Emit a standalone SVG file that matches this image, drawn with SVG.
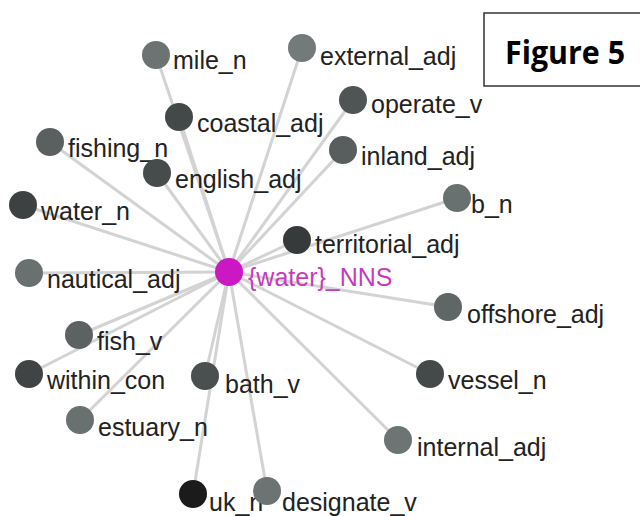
<svg xmlns="http://www.w3.org/2000/svg" width="640" height="516" viewBox="0 0 640 516">
<style>
.e{stroke:#d3d3d3;stroke-width:3}
.l{font-family:"Liberation Sans",Arial,sans-serif;font-size:25px;fill:#222}
.c{font-family:"Liberation Sans",Arial,sans-serif;font-size:25px;fill:#c43cbc}
.fig{font-family:"Open Sans","Liberation Sans",sans-serif;font-size:32px;font-weight:bold;fill:#000}
</style>
<rect width="640" height="516" fill="#fff"/>
<g id="connectors">
<line class="e" x1="229" y1="272" x2="156" y2="55"/>
<line class="e" x1="229" y1="272" x2="302" y2="48"/>
<line class="e" x1="229" y1="272" x2="179" y2="117"/>
<line class="e" x1="229" y1="272" x2="353" y2="100"/>
<line class="e" x1="229" y1="272" x2="50" y2="142"/>
<line class="e" x1="229" y1="272" x2="343" y2="150"/>
<line class="e" x1="229" y1="272" x2="157" y2="173"/>
<line class="e" x1="229" y1="272" x2="457" y2="198"/>
<line class="e" x1="229" y1="272" x2="23" y2="205"/>
<line class="e" x1="229" y1="272" x2="297" y2="240"/>
<line class="e" x1="229" y1="272" x2="29" y2="273"/>
<line class="e" x1="229" y1="272" x2="448" y2="307"/>
<line class="e" x1="229" y1="272" x2="79" y2="335"/>
<line class="e" x1="229" y1="272" x2="29" y2="374"/>
<line class="e" x1="229" y1="272" x2="205" y2="376"/>
<line class="e" x1="229" y1="272" x2="430" y2="374"/>
<line class="e" x1="229" y1="272" x2="80" y2="420"/>
<line class="e" x1="229" y1="272" x2="398" y2="440"/>
<line class="e" x1="229" y1="272" x2="193" y2="494"/>
<line class="e" x1="229" y1="272" x2="267" y2="491"/>
</g>
<g id="mile_n"><circle cx="156" cy="55" r="14" fill="#6c7373"/><text class="l" x="173" y="69">mile_n</text></g>
<g id="external_adj"><circle cx="302" cy="48" r="14" fill="#737a7a"/><text class="l" x="320" y="65">external_adj</text></g>
<g id="coastal_adj"><circle cx="179" cy="117" r="14" fill="#434848"/><text class="l" x="197" y="132">coastal_adj</text></g>
<g id="operate_v"><circle cx="353" cy="100" r="14" fill="#4f5555"/><text class="l" x="371" y="113">operate_v</text></g>
<g id="fishing_n"><circle cx="50" cy="142" r="14" fill="#5a6060"/><text class="l" x="68" y="157">fishing_n</text></g>
<g id="inland_adj"><circle cx="343" cy="150" r="14" fill="#585e5e"/><text class="l" x="361" y="165">inland_adj</text></g>
<g id="english_adj"><circle cx="157" cy="173" r="14" fill="#464b4b"/><text class="l" x="175" y="188">english_adj</text></g>
<g id="b_n"><circle cx="457" cy="198" r="14" fill="#697070"/><text class="l" x="471" y="213">b_n</text></g>
<g id="water_n"><circle cx="23" cy="205" r="14" fill="#3d4141"/><text class="l" x="41" y="220">water_n</text></g>
<g id="territorial_adj"><circle cx="297" cy="240" r="14" fill="#363a3a"/><text class="l" x="315" y="253">territorial_adj</text></g>
<g id="nautical_adj"><circle cx="29" cy="273" r="14" fill="#697070"/><text class="l" x="47" y="288">nautical_adj</text></g>
<g id="offshore_adj"><circle cx="448" cy="307" r="14" fill="#5f6666"/><text class="l" x="467" y="323">offshore_adj</text></g>
<g id="fish_v"><circle cx="79" cy="335" r="14" fill="#5c6262"/><text class="l" x="97" y="350">fish_v</text></g>
<g id="within_con"><circle cx="29" cy="374" r="14" fill="#404444"/><text class="l" x="47" y="389">within_con</text></g>
<g id="bath_v"><circle cx="205" cy="376" r="14" fill="#4a4f4f"/><text class="l" x="225" y="393">bath_v</text></g>
<g id="vessel_n"><circle cx="430" cy="374" r="14" fill="#444949"/><text class="l" x="448" y="389">vessel_n</text></g>
<g id="estuary_n"><circle cx="80" cy="420" r="14" fill="#697070"/><text class="l" x="98" y="436">estuary_n</text></g>
<g id="internal_adj"><circle cx="398" cy="440" r="14" fill="#6c7474"/><text class="l" x="417" y="456">internal_adj</text></g>
<g id="uk_n"><circle cx="193" cy="494" r="14" fill="#1b1b1b"/><text class="l" x="209" y="511">uk_n</text></g>
<g id="designate_v"><circle cx="267" cy="491" r="14" fill="#6c7373"/><text class="l" x="282" y="511">designate_v</text></g>
<g id="water_NNS"><circle cx="229" cy="272" r="14" fill="#cc17c4"/><text class="c" x="248" y="286">{water}_NNS</text></g>
<g id="figure_label"><rect x="484" y="13" width="160" height="73" fill="#fff" stroke="#333" stroke-width="1.5"/><text class="fig" x="505" y="64" textLength="120" lengthAdjust="spacingAndGlyphs">Figure 5</text></g>
</svg>
